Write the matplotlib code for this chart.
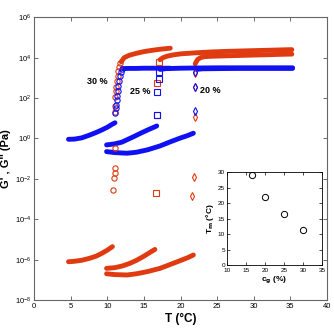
import matplotlib
matplotlib.use("Agg")
import matplotlib.pyplot as plt
import numpy as np
from matplotlib.ticker import LogFormatterMathtext, FixedLocator

plt.rcParams['font.family'] = ['Liberation Sans', 'DejaVu Sans']
plt.rcParams['mathtext.fontset'] = 'custom'
plt.rcParams['mathtext.rm'] = 'Liberation Sans'

RED = '#e03a10'
BLUE = '#1010f5'

# ---------------- data (T in degC, moduli in Pa) ----------------
# 30 % : circles
T30_lo = [4.7, 5.5, 6.5, 7.6, 8.5, 9.3, 10.0, 10.6, 11.05]
Gpp30_lo = [0.91, 0.93, 1.07, 1.48, 2.0, 2.7, 3.6, 4.9, 6.0]
T30_lo_r = [4.7, 5.5, 6.5, 7.6, 8.5, 9.3, 10.0, 10.7]
Gp30_lo = [7.9e-7, 8.3e-7, 9.3e-7, 1.17e-6, 1.5e-6, 2.1e-6, 2.95e-6, 4.4e-6]
T30_tr_b = [11.1, 11.15, 11.2, 11.3, 11.35, 11.4, 11.5, 11.6, 11.7, 11.85, 12.0]
Gpp30_tr = [17.8, 31.6, 45.7, 79, 126, 224, 398, 708, 1260, 2000, 2630]
T30_tr_r = [10.8, 10.9, 11.0, 11.0, 11.0, 11.0, 11.05, 11.1, 11.2, 11.2, 11.3, 11.4, 11.5, 11.6, 11.75]
Gp30_tr = [2.8e-3, 1.07e-2, 1.9e-2, 3.3e-2, 0.32, 21.4, 40, 117, 224, 372, 708, 1260, 2240, 3550, 5250]
T30_pl = [11.9, 12.3, 13.0, 14.0, 15.0, 16.0, 17.0, 18.0, 18.6]
Gp30_pl = [6300, 10000, 13200, 16600, 20000, 22900, 25700, 28200, 29500]
T30_pl_b = [12.1, 13.0, 14.0, 15.0, 16.0, 17.0, 18.0, 18.6]
Gpp30_pl = [2880, 2950, 2950, 3020, 3020, 3020, 3020, 3020]

# 25 % : squares
T25_lo = [9.9, 11.0, 12.0, 13.6, 14.5, 15.5, 16.2, 16.75]
Gpp25_lo = [0.48, 0.54, 0.66, 1.23, 1.78, 2.63, 3.39, 4.17]
T25_lo_r = [9.9, 11.0, 12.0, 13.1, 14.0, 15.0, 16.0, 16.5]
Gp25_lo = [3.7e-7, 4.0e-7, 4.8e-7, 6.6e-7, 9.3e-7, 1.48e-6, 2.5e-6, 3.2e-6]
T25_tr_b = [16.75, 16.8, 17.0, 17.0]
Gpp25_tr = [14.5, 209, 851, 2000]
T25_tr_r = [16.6, 16.75, 16.8, 17.0]
Gp25_tr = [2.1e-3, 14.5, 537, 5890]
T25_pl = [17.2, 17.6, 18.2, 19, 20, 22, 24, 26, 28, 30, 32, 34, 35.2]
Gp25_pl = [7940, 10000, 12000, 13800, 15500, 17400, 19100, 20400, 21400, 22400, 23400, 24500, 25100]
T25_pl_b = [17.2, 18, 20, 22, 25, 28, 31, 34, 35.3]
Gpp25_pl = [2630, 2880, 3020, 3090, 3160, 3160, 3160, 3160, 3160]

# 20 % : diamonds
T20_lo = [9.9, 11.0, 12.7, 14.0, 15.5, 17.2, 18.5, 19.8, 21.0, 21.75]
Gpp20_lo = [0.224, 0.2, 0.186, 0.209, 0.275, 0.427, 0.66, 1.0, 1.41, 1.82]
Gp20_lo = [2.0e-7, 1.82e-7, 1.74e-7, 2.0e-7, 2.57e-7, 3.7e-7, 5.6e-7, 8.5e-7, 1.26e-6, 1.7e-6]
T20_tr_b = [22.0, 22.0, 22.0]
Gpp20_tr = [24, 339, 2000]
T20_tr_r = [21.5, 21.8, 22.0, 22.0, 22.0]
Gp20_tr = [1.48e-3, 1.2e-2, 11.2, 339, 1700]
T20_pl = [22.0, 22.3, 22.7, 23.2, 24, 26, 28, 30, 32, 34, 35.2]
Gp20_pl = [5000, 7900, 10000, 11200, 11700, 12300, 12900, 13500, 14100, 14800, 15100]
T20_pl_b = [22.2, 23, 25, 28, 31, 34, 35.3]
Gpp20_pl = [2630, 2820, 2880, 2950, 2950, 2950, 2950]

labels = ['30 %', '25 %', '20 %']
label_T = [8.6, 14.5, 24.0]
label_G = [700, 220, 230]

# inset
cg = [16.5, 20, 25, 30]
Tm = [28.9, 21.8, 16.6, 11.2]

# ---------------- figure ----------------
fig = plt.figure(figsize=(3.34, 3.33), dpi=100)
ax = fig.add_axes([0.102, 0.099, 0.877, 0.849])

band = dict(lw=3.5, solid_capstyle='round', solid_joinstyle='round')
mk = dict(ls='none', mfc='none', ms=3.8, mew=0.8)

for T, G, c in [(T30_lo, Gpp30_lo, BLUE), (T30_lo_r, Gp30_lo, RED),
                (T25_lo, Gpp25_lo, BLUE), (T25_lo_r, Gp25_lo, RED),
                (T20_lo, Gpp20_lo, BLUE), (T20_lo, Gp20_lo, RED),
                (T30_pl, Gp30_pl, RED), (T25_pl, Gp25_pl, RED), (T20_pl, Gp20_pl, RED),
                (T30_pl_b, Gpp30_pl, BLUE), (T25_pl_b, Gpp25_pl, BLUE), (T20_pl_b, Gpp20_pl, BLUE)]:
    ax.plot(T, G, color=c, **band)

ax.plot(T30_tr_r, Gp30_tr, marker='o', mec=RED, **mk)
ax.plot(T30_tr_b, Gpp30_tr, marker='o', mec=BLUE, **mk)
ax.plot(T25_tr_r, Gp25_tr, marker='s', mec=RED, **mk)
ax.plot(T25_tr_b, Gpp25_tr, marker='s', mec=BLUE, **mk)
ax.plot(T20_tr_r, Gp20_tr, marker='d', mec=RED, **mk)
ax.plot(T20_tr_b, Gpp20_tr, marker='d', mec=BLUE, **mk)

for s, x, y in zip(labels, label_T, label_G):
    ax.text(x, y, s, fontsize=6.5, fontweight='bold', ha='center', va='center')

ax.set_yscale('log')
ax.set_xlim(0, 40)
ax.set_ylim(1e-8, 1e6)
ax.set_xticks(np.arange(0, 41, 5))
ax.yaxis.set_major_locator(FixedLocator([10.0**k for k in range(-8, 7, 2)]))
ax.yaxis.set_major_formatter(LogFormatterMathtext())
ax.yaxis.set_minor_locator(FixedLocator([]))
ax.tick_params(direction='in', length=3, width=0.6, labelsize=5.5, top=True, right=True,
               color='#555555', pad=2)
for sp in ax.spines.values():
    sp.set_color('#666666')
    sp.set_linewidth(0.8)
ax.set_xlabel('T (°C)', fontsize=8.5, fontweight='bold', labelpad=2)
ax.set_ylabel("G' , G'' (Pa)", fontsize=8, fontweight='bold', labelpad=3)

ins = fig.add_axes([0.680, 0.204, 0.284, 0.2795])
ins.plot(cg, Tm, ls='none', marker='o', mfc='none', mec='black', ms=4.5, mew=0.7)
ins.set_xlim(10, 35)
ins.set_ylim(0, 30)
ins.set_xticks(np.arange(10, 36, 5))
ins.set_yticks(np.arange(0, 31, 5))
ins.tick_params(direction='in', length=2.5, width=0.5, labelsize=4.6, top=True, right=True, pad=1.5)
ins.tick_params(axis='x', pad=2.2)
for sp in ins.spines.values():
    sp.set_linewidth(0.6)
ins.set_xlabel('c$_\\mathbf{g}$ (%)', fontsize=6, fontweight='bold', labelpad=1)
ins.set_ylabel('T$_\\mathbf{m}$ (°C)', fontsize=6, fontweight='bold', labelpad=1)

fig.savefig('out.png', dpi=100)
